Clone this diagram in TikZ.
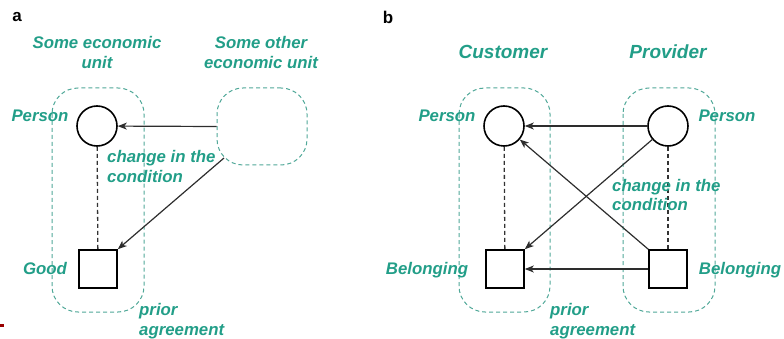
\documentclass[tikz,border=0pt]{standalone}
\usepackage{fontspec}
\setmainfont{Liberation Sans}
\usetikzlibrary{arrows.meta,calc}
\definecolor{tealtxt}{RGB}{34,158,136}
\definecolor{tealbox}{RGB}{80,168,152}
\definecolor{arrowgray}{RGB}{45,45,45}
\begin{document}
\begin{tikzpicture}[x=1pt,y=-1pt,
  lbl/.style={font=\fontsize{16.8}{20}\selectfont\bfseries\itshape,text=tealtxt,inner sep=0pt,text height=12pt,text depth=3.5pt},
  mlbl/.style={font=\fontsize{16.8}{19.5}\selectfont\bfseries\itshape,text=tealtxt,inner sep=0pt},
  hlbl/.style={font=\fontsize{19}{22}\selectfont\bfseries\itshape,text=tealtxt,inner sep=0pt},
  panel/.style={font=\fontsize{17}{20}\selectfont\bfseries,text=black,inner sep=0pt},
  pers/.style={draw=black,line width=1.6pt,circle,minimum size=40pt,inner sep=0pt},
  good/.style={draw=black,line width=1.6pt,rectangle,minimum size=38pt,inner sep=0pt},
  unit/.style={draw=tealbox,line width=1pt,dash pattern=on 4pt off 3pt,rounded corners=26pt},
  link/.style={draw=black!80,line width=1.3pt,dash pattern=on 4pt off 3pt},
  flow/.style={draw=arrowgray,line width=1.2pt,-{Stealth[length=9pt,width=7pt,inset=2.5pt]}}
]
\useasboundingbox (0,0) rectangle (784,339);
\fill[red!60!black] (0,324) rectangle (4,327);

% ---------------- panel a
\node[panel] (pa) at (17,17) {a};
\node[mlbl,align=center] (t1) at (97,52.5) {Some economic\\unit};
\node[mlbl,align=center] (t2) at (261,52.5) {Some other\\economic unit};

\draw[unit] (52,88) rectangle (144,312);
\node[unit,minimum width=90pt,minimum height=77pt,inner sep=0pt] (boxA) at (262,126.5) {};

\node[pers] (circA) at (97,126) {};
\node[good] (sqA) at (98,269) {};
\draw[link] (circA) -- (sqA);

\node[lbl] (persA) at (40,117.5) {Person};
\node[lbl] (goodA) at (45,270.5) {Good};

\coordinate (boxAc) at ($(boxA.south west)+(7.5,-7.5)$);
\draw[flow] (boxA.west) -- (circA);
\draw[flow] (boxAc) -- (sqA.north east);

\node[mlbl,align=left,anchor=west] (chA) at (107,166.5) {change in the\\condition};
\node[mlbl,align=left,anchor=west] (prA) at (139,321) {prior\\agreement};

% ---------------- panel b
\node[panel] (pb) at (388,17) {b};
\node[hlbl] (cust) at (503,52) {Customer};
\node[hlbl] (prov) at (668,52) {Provider};

\draw[unit] (459,88) rectangle (550,312);
\draw[unit] (623,88) rectangle (715,312);

\node[pers] (circC) at (504,126) {};
\node[pers] (circP) at (668,126) {};
\node[good] (sqC) at (505,269) {};
\node[good] (sqP) at (668,269) {};
\draw[link] (circC) -- (sqC);
\draw[link] (circP) -- (sqP);

\node[lbl] (persC) at (447,117.5) {Person};
\node[lbl] (persP) at (727,117.5) {Person};
\node[lbl] (belC) at (427,270.5) {Belonging};
\node[lbl] (belP) at (740,270.5) {Belonging};

\draw[flow] (circP) -- (circC);
\draw[flow] (circP) -- (sqC.north east);
\draw[flow] (sqP.north west) -- (circC);
\draw[flow] (sqP) -- (sqC);

\node[mlbl,align=left,anchor=west] (chB) at (612,195) {change in the\\condition};
\node[mlbl,align=left,anchor=west] (prB) at (550,321) {prior\\agreement};
\end{tikzpicture}
\end{document}
